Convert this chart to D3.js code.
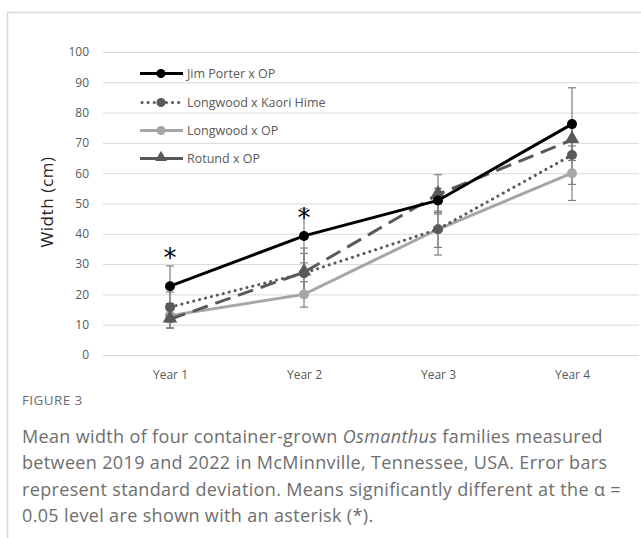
<!DOCTYPE html>
<html>
<head>
<meta charset="utf-8">
<script src="https://cdn.jsdelivr.net/npm/d3@7"></script>
<style>
  body { margin: 0; background: #fff; }
  svg { display: block; }
</style>
</head>
<body>
<svg width="641" height="538"></svg>
<script>
// chart values
const years = ['Year 1', 'Year 2', 'Year 3', 'Year 4'];
const yTicks = [0, 10, 20, 30, 40, 50, 60, 70, 80, 90, 100];
const jimPorter = [22.7, 39.3, 51, 76.2];
const jimPorterSd = [6.7, 8.9, 4, 12];
const kaoriHime = [15.8, 27, 41.5, 66];
const kaoriHimeSd = [5, 6.5, 6, 9.7];
const longwoodOp = [13, 20, 41.5, 60];
const longwoodOpSd = [4, 4.2, 8.5, 9];
const rotundOp = [11.8, 27.3, 53, 71];
const rotundOpSd = [3, 8, 6.5, 5];
const asterisks = ['Year 1', 'Year 2'];
const asteriskValue = [33.5, 47];

const series = [
  {name: 'Jim Porter x OP', vals: jimPorter, sd: jimPorterSd, color: '#000000', dash: null, cap: 'butt', marker: 'circle'},
  {name: 'Longwood x Kaori Hime', vals: kaoriHime, sd: kaoriHimeSd, color: '#595959', dash: '0.1,6', cap: 'round', marker: 'circle'},
  {name: 'Longwood x OP', vals: longwoodOp, sd: longwoodOpSd, color: '#a6a6a6', dash: null, cap: 'butt', marker: 'circle'},
  {name: 'Rotund x OP', vals: rotundOp, sd: rotundOpSd, color: '#595959', dash: '16,8', cap: 'butt', marker: 'triangle'}
];

const svg = d3.select('svg');
const chartFont = '"Open Sans", sans-serif';

// outer frame (top + left)
svg.append('line').attr('x1', 7.5).attr('x2', 641).attr('y1', 12.5).attr('y2', 12.5)
  .attr('stroke', '#d9d9d9').attr('stroke-width', 1.5);
svg.append('line').attr('x1', 7.5).attr('x2', 7.5).attr('y1', 12).attr('y2', 538)
  .attr('stroke', '#d9d9d9').attr('stroke-width', 1.5);

const xScale = d3.scalePoint().domain(years).range([103, 639]).padding(0.5);
const yScale = d3.scaleLinear().domain([0, 100]).range([355, 52]);

// gridlines
svg.append('g')
  .attr('transform', 'translate(103,0)')
  .call(d3.axisLeft(yScale).tickValues(yTicks).tickSize(-536).tickFormat(''))
  .call(g => g.select('.domain').remove())
  .call(g => g.selectAll('line').attr('stroke', '#d9d9d9').attr('stroke-width', 1));

// y tick labels
svg.append('g')
  .attr('transform', 'translate(89,0)')
  .call(d3.axisLeft(yScale).tickValues(yTicks).tickSize(0).tickPadding(0))
  .call(g => g.select('.domain').remove())
  .call(g => g.selectAll('text').attr('font-family', chartFont).attr('font-size', 12).attr('fill', '#595959'));

// x tick labels
svg.append('g')
  .attr('transform', 'translate(0,366)')
  .call(d3.axisBottom(xScale).tickSize(0).tickPadding(4))
  .call(g => g.select('.domain').remove())
  .call(g => g.selectAll('text').attr('font-family', chartFont).attr('font-size', 12).attr('fill', '#595959'));

// y axis title
svg.append('text')
  .attr('transform', 'translate(53,202) rotate(-90)')
  .attr('text-anchor', 'middle')
  .attr('font-family', chartFont)
  .attr('font-size', 17)
  .attr('letter-spacing', 0.6)
  .attr('fill', '#262626')
  .text('Width (cm)');

const line = d3.line()
  .x((d, i) => xScale(years[i]))
  .y(d => yScale(d));

const tri = d3.symbol().type(d3.symbolTriangle).size(90);

// error bars
series.forEach(s => {
  const g = svg.append('g').attr('stroke', '#7f7f7f').attr('stroke-width', 1.2);
  s.vals.forEach((v, i) => {
    const x = xScale(years[i]);
    const y0 = yScale(v - s.sd[i]), y1 = yScale(v + s.sd[i]);
    g.append('line').attr('x1', x).attr('x2', x).attr('y1', y0).attr('y2', y1);
    g.append('line').attr('x1', x - 4).attr('x2', x + 4).attr('y1', y0).attr('y2', y0);
    g.append('line').attr('x1', x - 4).attr('x2', x + 4).attr('y1', y1).attr('y2', y1);
  });
});

// lines + markers, drawn back to front
[2, 1, 3, 0].forEach(k => {
  const s = series[k];
  svg.append('path')
    .datum(s.vals)
    .attr('d', line)
    .attr('fill', 'none')
    .attr('stroke', s.color)
    .attr('stroke-width', 3)
    .attr('stroke-linecap', s.cap)
    .attr('stroke-dasharray', s.dash);
  s.vals.forEach((v, i) => {
    const x = xScale(years[i]), y = yScale(v);
    if (s.marker === 'circle') {
      svg.append('circle').attr('cx', x).attr('cy', y).attr('r', 5).attr('fill', s.color);
    } else {
      svg.append('path').attr('d', tri).attr('transform', `translate(${x},${y - 1})`).attr('fill', s.color);
    }
  });
});

// significance asterisks
svg.selectAll('.ast')
  .data(asterisks)
  .enter()
  .append('text')
  .attr('class', 'ast')
  .attr('x', d => xScale(d))
  .attr('y', (d, i) => yScale(asteriskValue[i]) + 14)
  .attr('text-anchor', 'middle')
  .attr('font-family', '"DejaVu Sans", sans-serif')
  .attr('font-size', 26)
  .attr('fill', '#000')
  .text('*');

// legend
const legendY = [73.5, 102.5, 130.5, 158.5];
series.forEach((s, i) => {
  const g = svg.append('g').attr('transform', `translate(0,${legendY[i]})`);
  if (s.dash && s.cap === 'round') {
    g.append('line').attr('x1', 142).attr('x2', 182).attr('y1', 0).attr('y2', 0)
      .attr('stroke', s.color).attr('stroke-width', 3).attr('stroke-linecap', 'round')
      .attr('stroke-dasharray', s.dash);
  } else {
    g.append('line').attr('x1', 140).attr('x2', 183).attr('y1', 0).attr('y2', 0)
      .attr('stroke', s.color).attr('stroke-width', 3);
  }
  if (s.marker === 'circle') {
    g.append('circle').attr('cx', 161).attr('cy', 0).attr('r', 4.5).attr('fill', s.color);
  } else {
    g.append('path').attr('d', d3.symbol().type(d3.symbolTriangle).size(60))
      .attr('transform', 'translate(161,-1)').attr('fill', s.color);
  }
  g.append('text').attr('x', 187).attr('y', 4.5)
    .attr('font-family', chartFont).attr('font-size', 12.5).attr('fill', '#595959')
    .text(s.name);
});

// caption
const capFont = '"Open Sans", sans-serif';
svg.append('text').attr('x', 22).attr('y', 405)
  .attr('font-family', capFont).attr('font-size', 13.5).attr('letter-spacing', 0.4)
  .attr('fill', '#6e6e6e')
  .text('FIGURE 3');

const capLines = [
  [['Mean width of four container-grown ', false], ['Osmanthus', true], [' families measured', false]],
  [['between 2019 and 2022 in McMinnville, Tennessee, USA. Error bars', false]],
  [['represent standard deviation. Means significantly different at the \u03b1 =', false]],
  [['0.05 level are shown with an asterisk (*).', false]]
];
const capY = [443, 469, 496, 522];
capLines.forEach((parts, i) => {
  const t = svg.append('text').attr('x', 22).attr('y', capY[i])
    .attr('font-family', capFont).attr('font-size', 18).attr('letter-spacing', 0.35)
    .attr('fill', '#6e6e6e');
  parts.forEach(p => {
    t.append('tspan').attr('font-style', p[1] ? 'italic' : null).text(p[0]);
  });
});
</script>
</body>
</html>
